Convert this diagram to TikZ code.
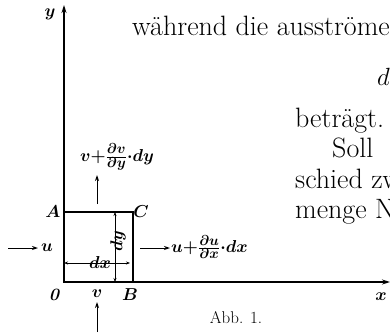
\documentclass[tikz,border=0pt]{standalone}
\usetikzlibrary{arrows.meta}
\begin{document}
\begin{tikzpicture}[x=1pt,y=-1pt,
  axis/.style={line width=1.2pt},
  boxline/.style={line width=1.5pt},
  flow/.style={line width=1pt,-{Stealth[length=6pt,width=4pt]}},
  dim/.style={line width=0.6pt,{Stealth[length=4pt,width=3pt]}-{Stealth[length=4pt,width=3pt]}},
  lab/.style={inner sep=0pt,font=\fontsize{19}{22}\selectfont\boldmath},
  txt/.style={inner sep=0pt,anchor=base west,font=\fontsize{28}{30}\selectfont},
  captext/.style={inner sep=0pt,font=\fontsize{17}{20}\selectfont}]
\useasboundingbox (0,0) rectangle (390,332);
\clip (0,0) rectangle (390,332);
% axes
\coordinate (O) at (64,282);
\coordinate (Ytop) at (64,5);
\coordinate (Xend) at (390,282);
\draw[axis,-{Stealth[length=8pt,width=5pt]}] (O) -- (Ytop);
\draw[axis,-{Stealth[length=8pt,width=5pt]}] (O) -- (Xend);
\node[lab] (ylab) at (50,14) {$y$};
\node[lab] (xlab) at (381,297) {$x$};
% box
\coordinate (A) at (64,212);
\coordinate (C) at (133,212);
\coordinate (B) at (133,282);
\draw[boxline] (O) -- (A) -- (C) -- (B) -- cycle;
\node[lab] (lA) at (53,212) {$A$};
\node[lab] (lC) at (141,212) {$C$};
\node[lab] (l0) at (55,295) {$\mathit{0}$};
\node[lab] (lB) at (130,295) {$B$};
% dimensions
\coordinate (dyT) at (115,212);
\coordinate (dyB) at (115,282);
\draw[dim] (dyT) -- (dyB);
\node[lab,rotate=90] (dylab) at (118,241) {$dy$};
\coordinate (dxL) at (64,263);
\coordinate (dxR) at (130,263);
\draw[dim] (dxL) -- (dxR);
\node[lab] (dxlab) at (100,262) {$dx$};
% flows
\coordinate (uS) at (8,248);
\coordinate (uE) at (38,248);
\draw[flow] (uS) -- (uE);
\node[lab,anchor=west] (ulab) at (41,248) {$u$};
\coordinate (u2S) at (140,248);
\coordinate (u2E) at (170,248);
\draw[flow] (u2S) -- (u2E);
\node[lab,anchor=west] (u2lab) at (171,247) {$u{+}\frac{\partial u}{\partial x}{\cdot}dx$};
\coordinate (vtS) at (97,204);
\coordinate (vtE) at (97,175);
\draw[flow] (vtS) -- (vtE);
\node[lab] (vtlab) at (117,157) {$v{+}\frac{\partial v}{\partial y}{\cdot}dy$};
\coordinate (vbS) at (97,332);
\coordinate (vbE) at (97,302);
\draw[flow] (vbS) -- (vbE);
\node[lab] (vblab) at (97,294) {$v$};
% caption
\node[captext] (caption) at (236,318) {Abb. 1.};
% surrounding page text
\node[txt] (t1) at (132,35) {während die ausströme};
\node[txt] (t2) at (377,85) {$d$};
\node[txt] (t3) at (295,127) {beträgt.};
\node[txt] (t4) at (332,157) {Soll};
\node[txt] (t5) at (295,188) {schied zw};
\node[txt] (t6) at (295,218) {menge N};
\end{tikzpicture}
\end{document}
